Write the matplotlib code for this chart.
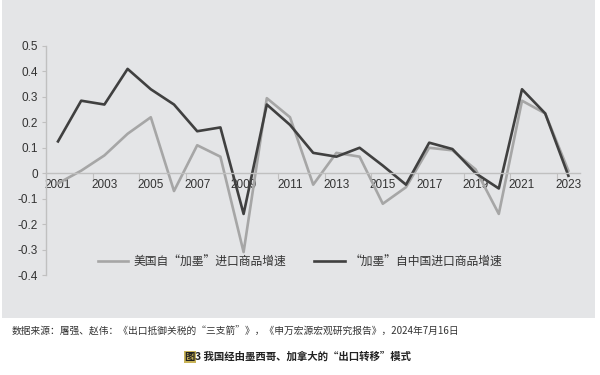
import numpy as np
import matplotlib
matplotlib.use("Agg")
import matplotlib.pyplot as plt
from matplotlib.patches import Rectangle

plt.rcParams['font.family'] = ['Liberation Sans', 'Noto Sans CJK SC', 'DejaVu Sans']

years = list(range(2001, 2024))

# 美国自“加墨”进口商品增速
us_from_cm = [-0.04, 0.01, 0.07, 0.155, 0.22, -0.07, 0.11, 0.065, -0.31, 0.295,
              0.22, -0.045, 0.08, 0.065, -0.12, -0.055, 0.10, 0.09, 0.015, -0.16,
              0.285, 0.235, 0.01]
# “加墨”自中国进口商品增速
cm_from_cn = [0.125, 0.285, 0.27, 0.41, 0.33, 0.27, 0.165, 0.18, -0.16, 0.27,
              0.19, 0.08, 0.065, 0.10, 0.03, -0.045, 0.12, 0.095, 0.0, -0.06,
              0.33, 0.235, -0.01]

label_us = "美国自“加墨”进口商品增速"
label_cn = "“加墨”自中国进口商品增速"
ytick_vals = [0.5, 0.4, 0.3, 0.2, 0.1, 0, -0.1, -0.2, -0.3, -0.4]
ytick_labels = ["0.5", "0.4", "0.3", "0.2", "0.1", "0", "-0.1", "-0.2", "-0.3", "-0.4"]
label_years = years[::2]

source = "数据来源：屠强、赵伟：《出口抵御关税的“三支箭”》，《申万宏源宏观研究报告》，2024年7月16日"
caption = "3 我国经由墨西哥、加拿大的“出口转移”模式"

fig = plt.figure(figsize=(6, 3.75), dpi=100)
fig.patches.append(Rectangle((2/600, 1-318/375), 593/600, 318/375,
                             transform=fig.transFigure, facecolor='#e4e5e7',
                             edgecolor='none', zorder=-10))

ax = fig.add_axes([46.4/600, 1-275/375, (580-46.4)/600, 229/375])
ax.patch.set_visible(False)

ax.plot(years, us_from_cm, color='#a6a6a6', lw=1.9, label=label_us)
ax.plot(years, cm_from_cn, color='#404040', lw=1.9, label=label_cn)

ax.set_xlim(2000.5, 2023.5)
ax.set_ylim(-0.4, 0.5)

for s in ['top', 'right']:
    ax.spines[s].set_visible(False)
ax.spines['left'].set_color('#c0c0c0')
ax.spines['bottom'].set_color('#c0c0c0')
ax.spines['bottom'].set_position(('data', 0))
ax.spines['left'].set_linewidth(1.0)
ax.spines['bottom'].set_linewidth(1.0)

ax.set_yticks(ytick_vals)
ax.set_yticklabels(ytick_labels)
ax.tick_params(axis='y', length=3, color='#c0c0c0', labelsize=8.5,
               labelcolor='#333333', pad=3)

ax.set_xticks(np.arange(2002.5, 2023, 2))
ax.set_xticklabels([])
ax.tick_params(axis='x', which='major', length=4, direction='out', color='#c0c0c0')
ax.set_xticks(label_years, minor=True)
ax.set_xticklabels([str(y) for y in label_years], minor=True)
ax.tick_params(axis='x', which='minor', length=0, labelsize=8.5,
               labelcolor='#333333', pad=4)

leg = fig.legend(loc='center', bbox_to_anchor=(300/600, 1-262/375), ncol=2,
                 frameon=False, handlelength=2.6, columnspacing=2.4,
                 handletextpad=0.4, prop={'family': ['Noto Sans CJK SC'], 'size': 8.5})
for t in leg.get_texts():
    t.set_color('#333333')

fig.text(12/600, 1-332/375, source, fontsize=7, color='#333333',
         family=['Noto Sans CJK SC'], va='center', ha='left')
fig.text(195/600, 1-357/375, "图", fontsize=7.5, color='#222222', weight='bold',
         family=['Noto Sans CJK SC'], va='center', ha='right',
         bbox=dict(boxstyle='square,pad=0.05', facecolor='#c9b458', edgecolor='none'))
fig.text(195/600, 1-357/375, caption, fontsize=7.5, color='#222222', weight='bold',
         family=['Noto Sans CJK SC'], va='center', ha='left')

fig.savefig("out.png", dpi=100)
